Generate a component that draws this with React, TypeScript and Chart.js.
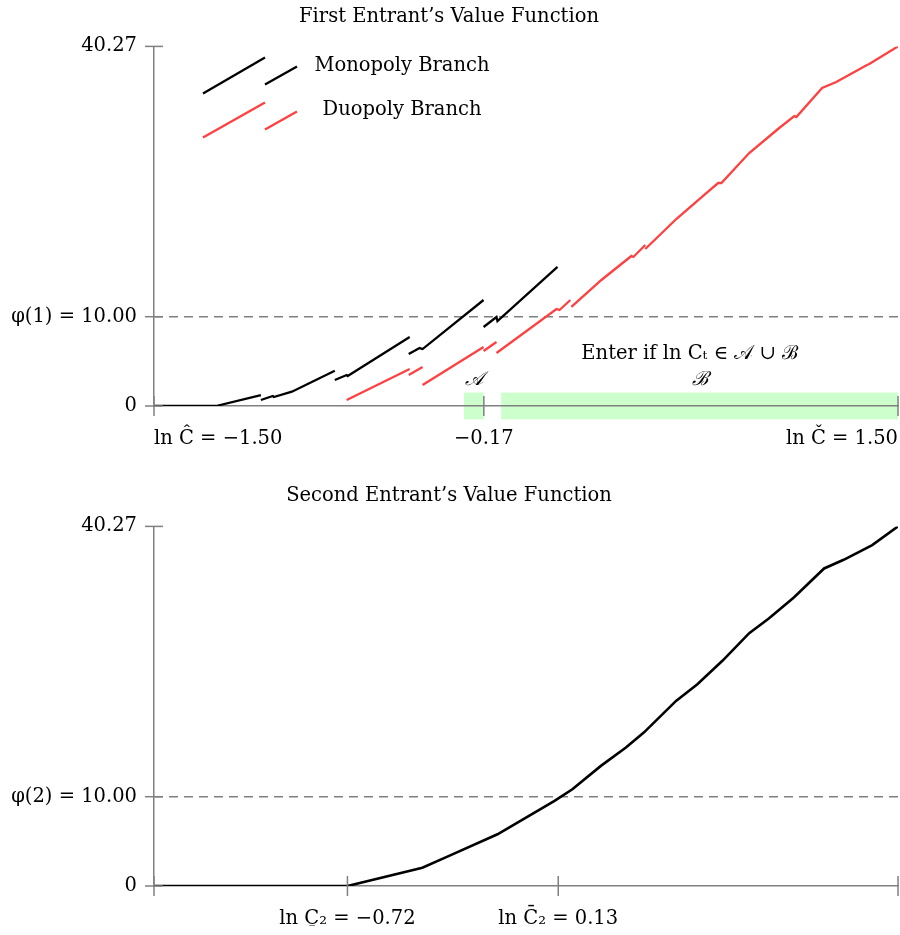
import React, { useEffect, useRef } from "react";
import { Chart, registerables } from "chart.js";
Chart.register(...registerables);

const FONT = '"DejaVu Serif", serif';
const FS = 19.5;
const AXIS = "#808080";
const RED = "#ff4040";
const GREEN = "#ccffcc";

// ---- shared axis settings ----
const xMin = -1.5;
const xMax = 1.5;
const yMax = 40.27;
const entryCost = 10;

// ---- top chart ticks ----
const topXTicks = [-1.5, -0.17, 1.5];
const topXTickLabels = ["ln Ĉ = −1.50", "−0.17", "ln Č = 1.50"];
const topYTicks = [0, 10, 40.27];
const topYTickLabels = ["0", "φ(1) = 10.00", "40.27"];

// ---- bottom chart ticks ----
const bottomXTicks = [-1.5, -0.72, 0.13, 1.5];
const bottomXTickLabels = ["", "ln C\u0331₂ = −0.72", "ln C\u0304₂ = 0.13", ""];
const bottomYTicks = [0, 10, 40.27];
const bottomYTickLabels = ["0", "φ(2) = 10.00", "40.27"];

// ---- entry regions ----
const regionA = [-0.25, -0.17];
const regionB = [-0.1, 1.5];

// ---- first entrant: monopoly branch segments ----
const mono1 = [[-1.5, 0], [-1.25, 0], [-1.069, 1.23]];
const mono2 = [[-1.069, 0.67], [-1.021, 1.12], [-1.017, 1.01], [-0.944, 1.6], [-0.771, 3.95]];
const mono3 = [[-0.771, 2.91], [-0.723, 3.47], [-0.719, 3.36], [-0.469, 7.73]];
const mono4 = [[-0.473, 5.82], [-0.429, 6.49], [-0.417, 6.38], [-0.171, 11.87]];
const mono5 = [[-0.171, 8.85], [-0.119, 9.97], [-0.115, 9.5], [0.127, 15.57]];

// ---- first entrant: duopoly branch segments ----
const duo1 = [[-0.723, 0.67], [-0.469, 4.14]];
const duo2 = [[-0.473, 3.47], [-0.417, 4.37]];
const duo3 = [[-0.417, 2.35], [-0.171, 6.61]];
const duo4 = [[-0.171, 6.16], [-0.119, 7.17]];
const duo5 = [[-0.119, 5.94], [0.123, 10.86], [0.135, 10.75], [0.179, 11.87]];
const duo6 = [[0.183, 11.09], [0.304, 14.11], [0.425, 16.8], [0.433, 16.69], [0.481, 18.03]];
const duo7 = [
  [0.481, 17.58], [0.606, 20.94], [0.727, 23.85], [0.775, 24.97], [0.788, 24.97],
  [0.9, 28.33], [1.021, 31.13], [1.082, 32.47], [1.09, 32.36], [1.194, 35.61],
  [1.251, 36.28], [1.375, 38.19], [1.384, 38.3], [1.5, 40.27],
];

// ---- second entrant ----
const secondEntrant = [
  [-1.5, 0], [-0.72, 0], [-0.418, 2.05], [-0.317, 3.29], [-0.115, 5.79], [0.0, 7.66],
  [0.115, 9.53], [0.187, 10.83], [0.302, 13.45], [0.403, 15.5], [0.475, 17.18],
  [0.605, 20.73], [0.691, 22.6], [0.792, 25.22], [0.9, 28.32], [0.979, 29.96],
  [1.08, 32.31], [1.202, 35.56], [1.281, 36.53], [1.396, 38.18], [1.5, 40.27],
];

const monoSegments = [mono1, mono2, mono3, mono4, mono5];
const duoSegments = [duo1, duo2, duo3, duo4, duo5, duo6, duo7];

const toXY = (arr: number[][]) => arr.map(([x, y]) => ({ x, y }));

const lineDs = (arr: number[][], color: string, width = 2.3) => ({
  data: toXY(arr),
  showLine: true,
  borderColor: color,
  borderWidth: width,
  pointRadius: 0,
  fill: false,
  tension: 0,
});

const dashedDs = () => ({
  data: toXY([[xMin, entryCost], [xMax, entryCost]]),
  showLine: true,
  borderColor: AXIS,
  borderWidth: 1.5,
  borderDash: [9, 6],
  pointRadius: 0,
  fill: false,
});

const tickMarks = {
  id: "tickMarks",
  afterDraw(chart: any) {
    const { ctx, scales } = chart;
    const x = scales.x;
    const y = scales.y;
    ctx.save();
    ctx.strokeStyle = AXIS;
    ctx.lineWidth = 1.5;
    const y0 = y.getPixelForValue(0);
    const x0 = x.getPixelForValue(xMin);
    x.ticks.forEach((t: any) => {
      const px = x.getPixelForValue(t.value);
      ctx.beginPath();
      ctx.moveTo(px, y0 - 10);
      ctx.lineTo(px, y0 + 10);
      ctx.stroke();
    });
    y.ticks.forEach((t: any) => {
      const py = y.getPixelForValue(t.value);
      ctx.beginPath();
      ctx.moveTo(x0 - 9, py);
      ctx.lineTo(x0 + 9, py);
      ctx.stroke();
    });
    ctx.restore();
  },
};

const regionsPlugin = {
  id: "regions",
  beforeDraw(chart: any) {
    const { ctx, scales } = chart;
    const x = scales.x;
    const y = scales.y;
    const top = y.getPixelForValue(1.5);
    const bot = y.getPixelForValue(-1.5);
    ctx.save();
    ctx.fillStyle = GREEN;
    [regionA, regionB].forEach(([a, b]) => {
      const l = x.getPixelForValue(a);
      const r = x.getPixelForValue(b);
      ctx.fillRect(l, top, r - l, bot - top);
    });
    ctx.restore();
  },
  afterDraw(chart: any) {
    const { ctx, scales, chartArea } = chart;
    const x = scales.x;
    const y = scales.y;
    const y0 = y.getPixelForValue(0);
    ctx.save();
    ctx.fillStyle = "#000";
    ctx.textAlign = "center";
    ctx.textBaseline = "middle";
    ctx.font = `italic ${FS}px ${FONT}`;
    ctx.fillText("𝒜", x.getPixelForValue((regionA[0] + regionA[1]) / 2), y0 - 26);
    ctx.fillText("ℬ", x.getPixelForValue((regionB[0] + regionB[1]) / 2), y0 - 26);
    ctx.font = `${FS}px ${FONT}`;
    ctx.fillText("Enter if ln Cₜ ∈ 𝒜 ∪ ℬ", x.getPixelForValue(0.66), y0 - 52);

    // legend
    const L = chartArea.left;
    const T = chartArea.top;
    const seg = (color: string, x1: number, y1: number, x2: number, y2: number) => {
      ctx.strokeStyle = color;
      ctx.lineWidth = 2.3;
      ctx.beginPath();
      ctx.moveTo(L + x1, T + y1);
      ctx.lineTo(L + x2, T + y2);
      ctx.stroke();
    };
    seg("#000", 49, 47, 111, 11);
    seg("#000", 111, 38, 143, 20);
    seg(RED, 49, 91, 111, 56);
    seg(RED, 111, 83, 143, 65);
    ctx.fillText("Monopoly Branch", L + 248, T + 20);
    ctx.fillText("Duopoly Branch", L + 248, T + 64);
    ctx.restore();
  },
};

function makeOptions(
  title: string,
  titlePad: { top: number; bottom: number },
  xTicks: number[],
  xLabels: string[],
  yTicks: number[],
  yLabels: string[],
  xHeight: number,
  bottomPad: number
) {
  return {
    animation: false,
    responsive: false,
    devicePixelRatio: 1,
    layout: { padding: { left: 0, right: 2, top: 0, bottom: bottomPad } },
    plugins: {
      legend: { display: false },
      tooltip: { enabled: false },
      title: {
        display: true,
        text: title,
        color: "#000",
        font: { family: FONT, size: FS, weight: "normal", lineHeight: 1.2 },
        padding: titlePad,
      },
    },
    scales: {
      x: {
        type: "linear",
        min: xMin,
        max: xMax,
        afterBuildTicks: (s: any) => {
          s.ticks = xTicks.map((v) => ({ value: v }));
        },
        afterFit: (s: any) => {
          s.height = xHeight;
          s.paddingLeft = 0;
          s.paddingRight = 0;
        },
        grid: { display: false, drawTicks: true, tickLength: 10 },
        border: { display: true, color: AXIS, width: 1.5 },
        ticks: {
          autoSkip: false,
          maxRotation: 0,
          align: "inner",
          padding: 11,
          color: "#000",
          font: { family: FONT, size: FS },
          callback: (_v: any, i: number) => xLabels[i],
        },
      },
      y: {
        type: "linear",
        min: 0,
        max: yMax,
        afterBuildTicks: (s: any) => {
          s.ticks = yTicks.map((v) => ({ value: v }));
        },
        afterFit: (s: any) => {
          s.width = 154;
        },
        grid: { display: false, drawTicks: true, tickLength: 9 },
        border: { display: true, color: AXIS, width: 1.5 },
        ticks: {
          autoSkip: false,
          padding: 8,
          color: "#000",
          font: { family: FONT, size: FS },
          callback: (_v: any, i: number) => yLabels[i],
        },
      },
    },
  };
}

export default function App() {
  const topRef = useRef<HTMLCanvasElement>(null);
  const botRef = useRef<HTMLCanvasElement>(null);

  useEffect(() => {
    const top = new Chart(topRef.current as HTMLCanvasElement, {
      type: "scatter",
      data: {
        datasets: [
          ...monoSegments.map((s) => lineDs(s, "#000")),
          ...duoSegments.map((s) => lineDs(s, RED)),
          dashedDs(),
        ],
      } as any,
      options: makeOptions(
        "First Entrant’s Value Function",
        { top: 5, bottom: 18 },
        topXTicks,
        topXTickLabels,
        topYTicks,
        topYTickLabels,
        50,
        9
      ) as any,
      plugins: [regionsPlugin, tickMarks],
    });
    const bot = new Chart(botRef.current as HTMLCanvasElement, {
      type: "scatter",
      data: {
        datasets: [lineDs(secondEntrant, "#000", 2.6), dashedDs()],
      } as any,
      options: makeOptions(
        "Second Entrant’s Value Function",
        { top: 19, bottom: 19 },
        bottomXTicks,
        bottomXTickLabels,
        bottomYTicks,
        bottomYTickLabels,
        40,
        9
      ) as any,
      plugins: [tickMarks],
    });
    return () => {
      top.destroy();
      bot.destroy();
    };
  }, []);

  return (
    <div style={{ position: "absolute", left: 0, top: 0, width: 900, height: 935, background: "#fff" }}>
      <canvas ref={topRef} width={900} height={465} style={{ display: "block", width: 900, height: 465 }} />
      <canvas ref={botRef} width={900} height={470} style={{ display: "block", width: 900, height: 470 }} />
    </div>
  );
}
